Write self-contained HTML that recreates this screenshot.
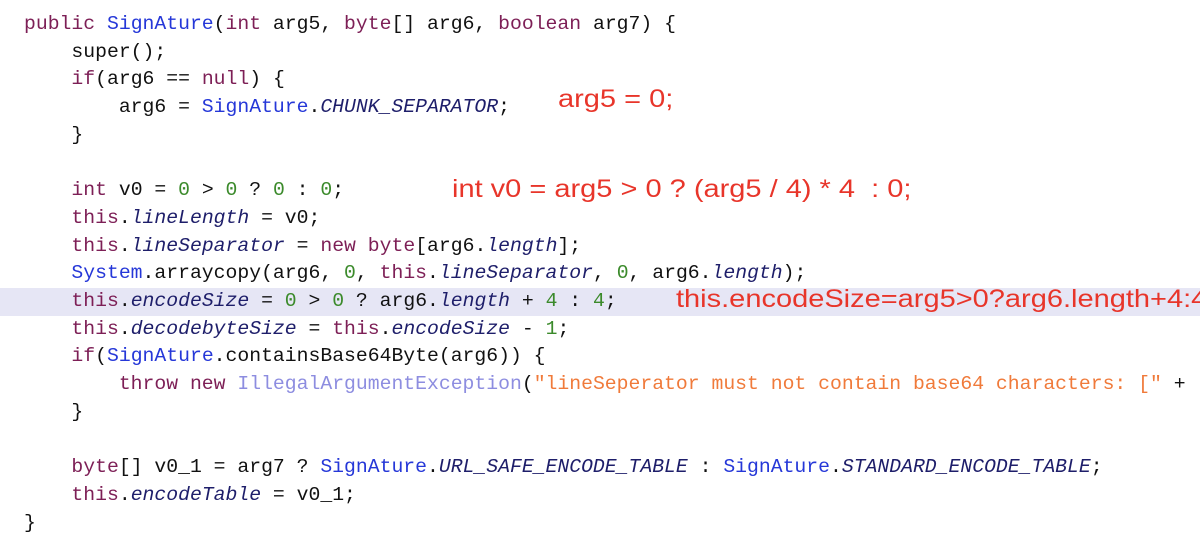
<!DOCTYPE html>
<html><head><meta charset="utf-8"><style>
body{margin:0;width:1200px;height:555px;background:#fff;overflow:hidden;position:relative;font-family:"Liberation Mono",monospace;}
.hl{position:absolute;left:0;top:288px;width:1200px;height:28px;background:#e6e6f5;}
pre{position:absolute;left:24px;top:11px;margin:0;font-family:"Liberation Mono",monospace;font-size:19.75px;line-height:27.7px;color:#111;}
.k{color:#7d1f56}.b{color:#2537d8}.i{font-style:italic;color:#1e1e6a}.n{color:#3b8a2b}.g{color:#8d8de0}.s{color:#f07a3a}
.r{position:absolute;font-family:"Liberation Sans",sans-serif;color:#e8352a;font-size:25px;white-space:nowrap;transform:scaleX(1.16);transform-origin:0 0;}
</style></head><body>
<div class="hl"></div>
<pre><span class="k">public</span> <span class="b">SignAture</span>(<span class="k">int</span> arg5, <span class="k">byte</span>[] arg6, <span class="k">boolean</span> arg7) {
    super();
    <span class="k">if</span>(arg6 == <span class="k">null</span>) {
        arg6 = <span class="b">SignAture</span>.<span class="i">CHUNK_SEPARATOR</span>;
    }

    <span class="k">int</span> v0 = <span class="n">0</span> &gt; <span class="n">0</span> ? <span class="n">0</span> : <span class="n">0</span>;
    <span class="k">this</span>.<span class="i">lineLength</span> = v0;
    <span class="k">this</span>.<span class="i">lineSeparator</span> = <span class="k">new</span> <span class="k">byte</span>[arg6.<span class="i">length</span>];
    <span class="b">System</span>.arraycopy(arg6, <span class="n">0</span>, <span class="k">this</span>.<span class="i">lineSeparator</span>, <span class="n">0</span>, arg6.<span class="i">length</span>);
    <span class="k">this</span>.<span class="i">encodeSize</span> = <span class="n">0</span> &gt; <span class="n">0</span> ? arg6.<span class="i">length</span> + <span class="n">4</span> : <span class="n">4</span>;
    <span class="k">this</span>.<span class="i">decodebyteSize</span> = <span class="k">this</span>.<span class="i">encodeSize</span> - <span class="n">1</span>;
    <span class="k">if</span>(<span class="b">SignAture</span>.containsBase64Byte(arg6)) {
        <span class="k">throw</span> <span class="k">new</span> <span class="g">IllegalArgumentException</span>(<span class="s">"lineSeperator must not contain base64 characters: ["</span> +
    }

    <span class="k">byte</span>[] v0_1 = arg7 ? <span class="b">SignAture</span>.<span class="i">URL_SAFE_ENCODE_TABLE</span> : <span class="b">SignAture</span>.<span class="i">STANDARD_ENCODE_TABLE</span>;
    <span class="k">this</span>.<span class="i">encodeTable</span> = v0_1;
}</pre>
<div class="r" style="left:558px;top:85px;">arg5 = 0;</div>
<div class="r" style="left:452px;top:175px;">int v0 = arg5 &gt; 0 ? (arg5 / 4) * 4&nbsp; : 0;</div>
<div class="r" style="left:676px;top:285px;">this.encodeSize=arg5&gt;0?arg6.length+4:4</div>
</body></html>
